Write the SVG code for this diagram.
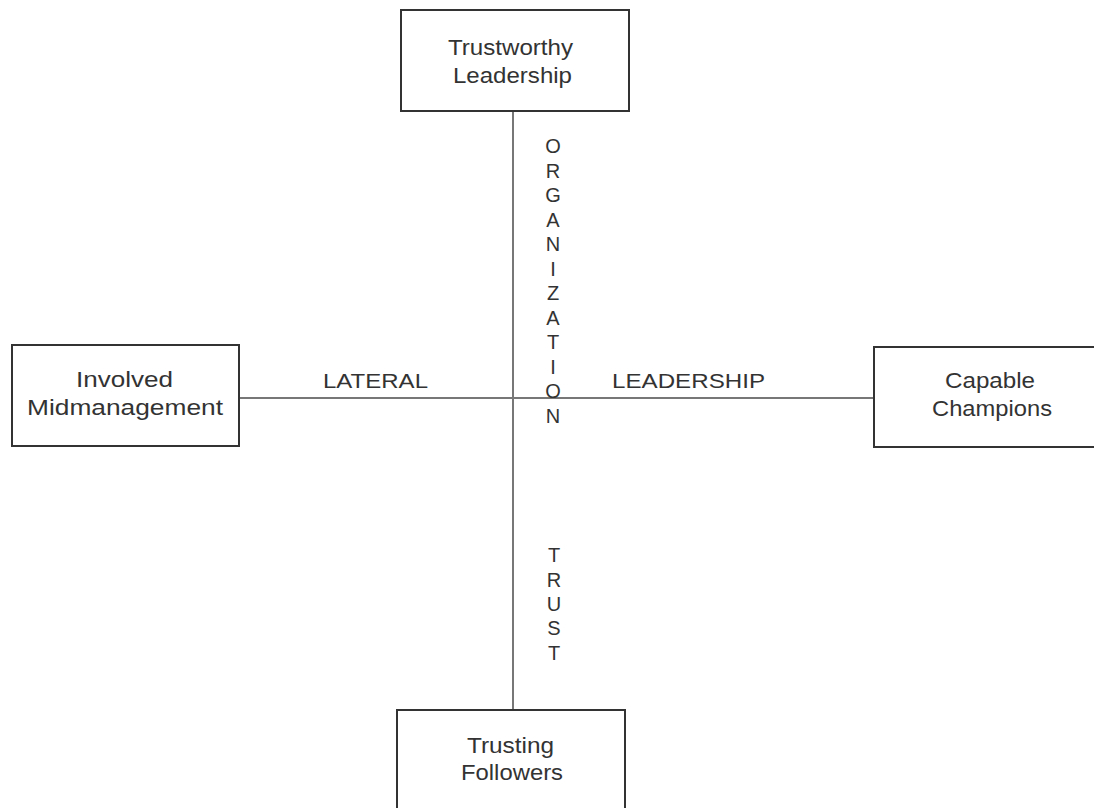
<svg xmlns="http://www.w3.org/2000/svg" width="1094" height="808" viewBox="0 0 1094 808">
<style>
.box{fill:#fff;stroke:#333;stroke-width:2}
.t{font-family:"Liberation Sans",Arial,sans-serif;font-size:22px;fill:#333;text-anchor:start}
.a{font-family:"Liberation Sans",Arial,sans-serif;font-size:20px;fill:#333}
.v{font-family:"Liberation Sans",Arial,sans-serif;font-size:20px;fill:#333;text-anchor:middle}
.ln{stroke:#777;stroke-width:2;fill:none}
</style>
<rect width="1094" height="808" fill="#fff"/>
<g id="connectors">
<line class="ln" x1="513" y1="111" x2="513" y2="710"/>
<line class="ln" x1="240" y1="398" x2="874" y2="398"/>
</g>
<g id="labels">
<text class="a" x="323" y="388" textLength="105" lengthAdjust="spacingAndGlyphs">LATERAL</text>
<text class="a" x="612" y="388" textLength="153" lengthAdjust="spacingAndGlyphs">LEADERSHIP</text>
<g id="organization">
<text class="v" x="553" y="153">O</text>
<text class="v" x="553" y="177.5">R</text>
<text class="v" x="553" y="202">G</text>
<text class="v" x="553" y="226.5">A</text>
<text class="v" x="553" y="251">N</text>
<text class="v" x="553" y="275.5">I</text>
<text class="v" x="553" y="300">Z</text>
<text class="v" x="553" y="324.5">A</text>
<text class="v" x="553" y="349">T</text>
<text class="v" x="553" y="373.5">I</text>
<text class="v" x="553" y="398">O</text>
<text class="v" x="553" y="423">N</text>
</g>
<g id="trust">
<text class="v" x="554" y="562">T</text>
<text class="v" x="554" y="587">R</text>
<text class="v" x="554" y="611">U</text>
<text class="v" x="554" y="635">S</text>
<text class="v" x="554" y="660">T</text>
</g>
</g>
<g id="trustworthy">
<rect class="box" x="401" y="10" width="228" height="101"/>
<text class="t" x="448" y="55" textLength="125" lengthAdjust="spacingAndGlyphs">Trustworthy</text>
<text class="t" x="453" y="83" textLength="119" lengthAdjust="spacingAndGlyphs">Leadership</text>
</g>
<g id="involved">
<rect class="box" x="12" y="345" width="227" height="101"/>
<text class="t" x="76" y="387" textLength="97" lengthAdjust="spacingAndGlyphs">Involved</text>
<text class="t" x="27" y="415" textLength="196" lengthAdjust="spacingAndGlyphs">Midmanagement</text>
</g>
<g id="capable">
<rect class="box" x="874" y="347" width="226" height="100"/>
<text class="t" x="945" y="388" textLength="90" lengthAdjust="spacingAndGlyphs">Capable</text>
<text class="t" x="932" y="416" textLength="120" lengthAdjust="spacingAndGlyphs">Champions</text>
</g>
<g id="trusting">
<rect class="box" x="397" y="710" width="228" height="110"/>
<text class="t" x="467" y="753" textLength="87" lengthAdjust="spacingAndGlyphs">Trusting</text>
<text class="t" x="461" y="780" textLength="102" lengthAdjust="spacingAndGlyphs">Followers</text>
</g>
</svg>
